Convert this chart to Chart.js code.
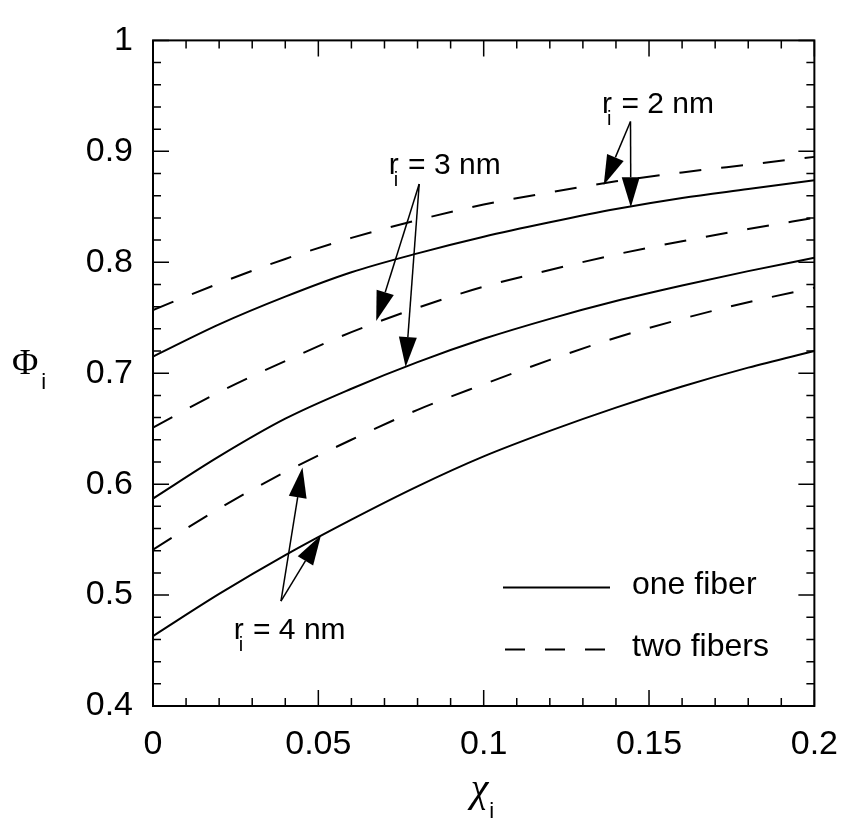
<!DOCTYPE html>
<html>
<head>
<meta charset="utf-8">
<script src="https://cdn.jsdelivr.net/npm/chart.js@4.4.1/dist/chart.umd.min.js"></script>
<style>
  html, body { margin: 0; padding: 0; background: #fff; }
  #wrap { width: 856px; height: 821px; }
</style>
</head>
<body>
<div id="wrap"><canvas id="chart"></canvas></div>
<script>
// volume fraction chi_i on the x axis
const chi = [0, 0.02, 0.04, 0.06, 0.08, 0.10, 0.12, 0.14, 0.16, 0.18, 0.20];

// Phi_i, one fiber (solid)
const r2One = [0.715, 0.744, 0.769, 0.791, 0.808, 0.823, 0.836, 0.848, 0.858, 0.866, 0.874];
const r3One = [0.587, 0.625, 0.659, 0.686, 0.710, 0.731, 0.749, 0.765, 0.779, 0.792, 0.804];
const r4One = [0.463, 0.501, 0.536, 0.568, 0.598, 0.625, 0.648, 0.669, 0.688, 0.705, 0.720];

// Phi_i, two fibers (dashed)
const r2Two = [0.757, 0.781, 0.803, 0.822, 0.838, 0.852, 0.863, 0.873, 0.881, 0.888, 0.895];
const r3Two = [0.651, 0.683, 0.711, 0.737, 0.759, 0.778, 0.793, 0.807, 0.819, 0.830, 0.840];
const r4Two = [0.541, 0.578, 0.611, 0.640, 0.667, 0.690, 0.712, 0.732, 0.749, 0.764, 0.777];

// labels with arrows: text anchor, arrow origin, arrow tips (data units)
const notes = [
  { num: "2", at: [0.1358, 0.935], from: [0.1444, 0.9269], tips: [[0.1363, 0.8696], [0.1445, 0.8496]] },
  { num: "3", at: [0.0713, 0.880], from: [0.0805, 0.8705], tips: [[0.0675, 0.7471], [0.0764, 0.7055]] },
  { num: "4", at: [0.0244, 0.4606], from: [0.0387, 0.4945], tips: [[0.0452, 0.6149], [0.0508, 0.5540]] }
];

const legendLabels = ["one fiber", "two fibers"];
const DASH = [22, 20];

function pts(ys) {
  return chi.map((x, i) => ({ x: x, y: ys[i] }));
}

function series(label, ys, dashed) {
  return {
    label: label,
    data: pts(ys),
    borderColor: "#000",
    borderWidth: 2,
    borderDash: dashed ? DASH : [],
    pointRadius: 0,
    cubicInterpolationMode: "monotone",
    fill: false
  };
}

const SANS = '"Liberation Sans", Arial, sans-serif';
const SERIF = '"Liberation Serif", "Times New Roman", serif';

function arrow(ctx, x0, y0, x1, y1) {
  const ang = Math.atan2(y1 - y0, x1 - x0);
  const len = 30, half = 9;
  const bx = x1 - len * Math.cos(ang), by = y1 - len * Math.sin(ang);
  ctx.beginPath();
  ctx.moveTo(x0, y0);
  ctx.lineTo(bx, by);
  ctx.stroke();
  ctx.beginPath();
  ctx.moveTo(x1, y1);
  ctx.lineTo(bx + half * Math.sin(ang), by - half * Math.cos(ang));
  ctx.lineTo(bx - half * Math.sin(ang), by + half * Math.cos(ang));
  ctx.closePath();
  ctx.fill();
}

// frame, inward ticks, labels, legend and axis titles
const decor = {
  id: "decor",
  afterDraw(chart) {
    const ctx = chart.ctx;
    const a = chart.chartArea;
    const xs = chart.scales.x, ys = chart.scales.y;
    ctx.save();
    ctx.strokeStyle = "#000";
    ctx.fillStyle = "#000";
    ctx.setLineDash([]);

    ctx.lineWidth = 2;
    ctx.strokeRect(a.left, a.top, a.right - a.left, a.bottom - a.top);

    ctx.lineWidth = 1.5;
    ctx.beginPath();
    for (let k = 0; k <= 20; k++) {
      const px = xs.getPixelForValue(k / 100);
      const t = k % 5 === 0 ? 16 : 8;
      ctx.moveTo(px, a.bottom); ctx.lineTo(px, a.bottom - t);
      ctx.moveTo(px, a.top); ctx.lineTo(px, a.top + t);
    }
    for (let k = 20; k <= 50; k++) {
      const py = ys.getPixelForValue(k / 50);
      const t = k % 5 === 0 ? 16 : 8;
      ctx.moveTo(a.left, py); ctx.lineTo(a.left + t, py);
      ctx.moveTo(a.right, py); ctx.lineTo(a.right - t, py);
    }
    ctx.stroke();

    // r_i = n nm labels
    ctx.lineWidth = 1.5;
    ctx.textBaseline = "alphabetic";
    notes.forEach(n => {
      const tx = xs.getPixelForValue(n.at[0]);
      const ty = ys.getPixelForValue(n.at[1]);
      ctx.font = "30px " + SANS;
      ctx.textAlign = "left";
      ctx.fillText("r", tx, ty);
      const rw = ctx.measureText("r").width;
      ctx.fillText(" = " + n.num + " nm", tx + rw + 1, ty);
      ctx.font = "20px " + SANS;
      ctx.fillText("i", tx + 5, ty + 12);
      const fx = xs.getPixelForValue(n.from[0]);
      const fy = ys.getPixelForValue(n.from[1]);
      n.tips.forEach(t => {
        arrow(ctx, fx, fy, xs.getPixelForValue(t[0]), ys.getPixelForValue(t[1]));
      });
    });

    // legend inside the plot, lower right
    const lx0 = a.left + 350, lx1 = a.left + 457;
    const ly = [a.top + 547, a.top + 609];
    ctx.lineWidth = 2;
    ctx.beginPath();
    ctx.moveTo(lx0, ly[0]); ctx.lineTo(lx1, ly[0]);
    ctx.stroke();
    ctx.setLineDash([20, 20]);
    ctx.beginPath();
    ctx.moveTo(lx0 + 2, ly[1]); ctx.lineTo(lx1, ly[1]);
    ctx.stroke();
    ctx.setLineDash([]);
    ctx.font = "32px " + SANS;
    ctx.textAlign = "left";
    legendLabels.forEach((s, i) => ctx.fillText(s, lx1 + 22, ly[i] + 7));

    // axis titles with subscript i
    const midY = (a.top + a.bottom) / 2;
    ctx.font = "36px " + SERIF;
    ctx.fillText("\u03A6", 12, midY + 1);
    const pw = ctx.measureText("\u03A6").width;
    ctx.font = "22px " + SANS;
    ctx.fillText("i", 12 + pw + 3, midY + 16);

    const midX = (a.left + a.right) / 2;
    ctx.font = "italic 40px " + SERIF;
    const cw = ctx.measureText("\u03C7").width;
    ctx.fillText("\u03C7", midX - 13, 801);
    ctx.font = "22px " + SANS;
    ctx.fillText("i", midX - 13 + cw + 1, 818);
    ctx.restore();
  }
};

function fmt(v) {
  return String(Math.round(v * 100) / 100);
}

new Chart(document.getElementById("chart"), {
  type: "line",
  data: {
    datasets: [
      series("r_i = 2 nm, one fiber", r2One, false),
      series("r_i = 3 nm, one fiber", r3One, false),
      series("r_i = 4 nm, one fiber", r4One, false),
      series("r_i = 2 nm, two fibers", r2Two, true),
      series("r_i = 3 nm, two fibers", r3Two, true),
      series("r_i = 4 nm, two fibers", r4Two, true)
    ]
  },
  options: {
    responsive: true,
    maintainAspectRatio: false,
    animation: false,
    layout: { padding: { top: 33, right: 30, left: 0, bottom: 0 } },
    plugins: { legend: { display: false }, tooltip: { enabled: false } },
    scales: {
      x: {
        type: "linear",
        min: 0, max: 0.2,
        grid: { display: false, drawTicks: false },
        border: { display: false },
        ticks: { stepSize: 0.05, padding: 18, color: "#000", font: { size: 34, family: SANS }, callback: fmt, maxRotation: 0 },
        afterFit: s => { s.height = 115; }
      },
      y: {
        min: 0.4, max: 1,
        grid: { display: false, drawTicks: false },
        border: { display: false },
        ticks: { stepSize: 0.1, padding: 20, color: "#000", font: { size: 34, family: SANS }, callback: fmt },
        afterFit: s => { s.width = 153; }
      }
    }
  },
  plugins: [decor]
});
</script>
</body>
</html>
